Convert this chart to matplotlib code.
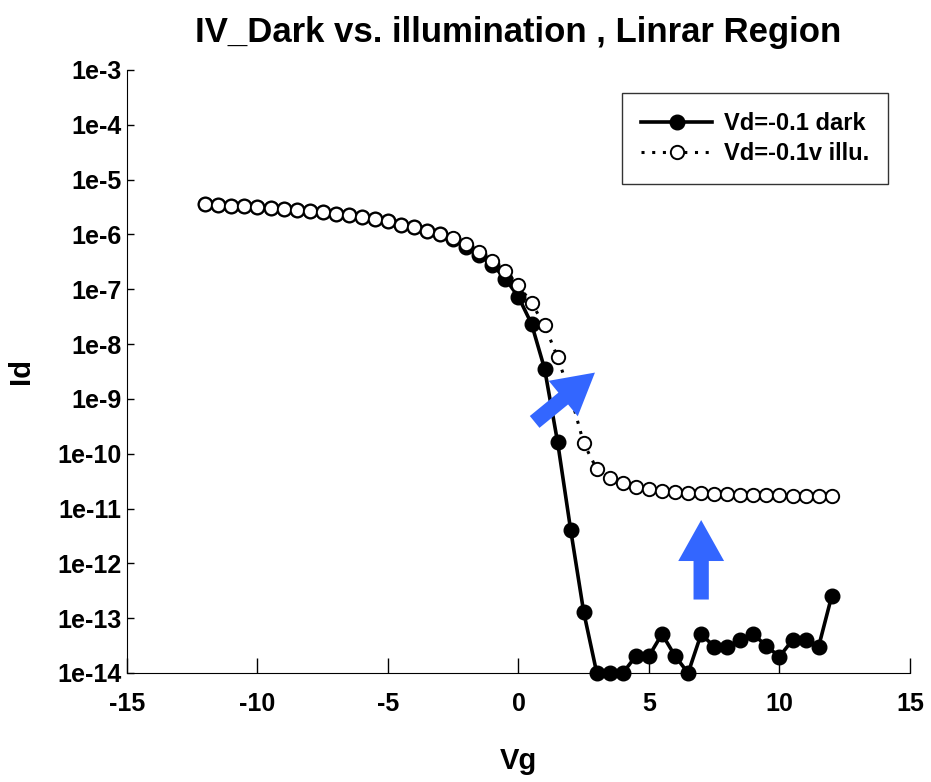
import numpy as np
import matplotlib
matplotlib.use("Agg")
from matplotlib import pyplot as plt

plt.rcParams['font.family'] = ['Liberation Sans', 'DejaVu Sans']
plt.rcParams['font.weight'] = 'bold'
plt.rcParams['axes.unicode_minus'] = False

# gate voltage sweep
vg = [-12, -11.5, -11, -10.5, -10, -9.5, -9, -8.5, -8, -7.5, -7, -6.5, -6, -5.5, -5,
      -4.5, -4, -3.5, -3, -2.5, -2, -1.5, -1, -0.5, 0, 0.5, 1, 1.5, 2, 2.5, 3, 3.5,
      4, 4.5, 5, 5.5, 6, 6.5, 7, 7.5, 8, 8.5, 9, 9.5, 10, 10.5, 11, 11.5, 12]

# log10(Id)
log_illu = [-5.45, -5.47, -5.48, -5.49, -5.50, -5.51, -5.53, -5.55, -5.57, -5.59,
            -5.62, -5.65, -5.68, -5.72, -5.76, -5.82, -5.86, -5.93, -5.99, -6.07,
            -6.18, -6.32, -6.49, -6.67, -6.93, -7.25, -7.66, -8.24, -8.95, -9.81,
            -10.28, -10.45, -10.54, -10.60, -10.65, -10.68, -10.70, -10.71, -10.72,
            -10.73, -10.74, -10.75, -10.75, -10.76, -10.76, -10.77, -10.77, -10.78,
            -10.78]
log_dark = [-5.45, -5.47, -5.48, -5.49, -5.50, -5.51, -5.53, -5.55, -5.57, -5.59,
            -5.62, -5.65, -5.68, -5.72, -5.76, -5.82, -5.86, -5.93, -5.99, -6.08,
            -6.23, -6.38, -6.55, -6.81, -7.14, -7.63, -8.45, -9.79, -11.39, -12.89,
            -14.0, -14.0, -14.0, -13.69, -13.69, -13.29, -13.69, -14.0, -13.29,
            -13.52, -13.52, -13.40, -13.29, -13.51, -13.70, -13.40, -13.40, -13.52,
            -12.60]

id_dark = 10 ** np.array(log_dark)
id_illu = 10 ** np.array(log_illu)

fig = plt.figure(figsize=(9.31, 7.82), dpi=100)
ax = fig.add_axes([0.1364, 0.1394, 0.8410, 0.7711])

ax.plot(vg, id_dark, '-o', color='black', lw=2.6, ms=10.5,
        label='Vd=-0.1 dark', clip_on=False, zorder=3)
ax.plot(vg, id_illu, linestyle=(0, (1, 2.5)), lw=2.2, color='black', marker='o',
        ms=9.6, mfc='white', mec='black', mew=1.4,
        label='Vd=-0.1v illu.', clip_on=False, zorder=4)

# blue arrows
arrow_style = 'simple,head_length=2.95,head_width=3.3,tail_width=1.1'
ax.annotate('', xy=(2.93, 10 ** -8.52), xytext=(0.62, 10 ** -9.42),
            arrowprops=dict(arrowstyle=arrow_style, color='#3366FF', lw=0,
                            shrinkA=0, shrinkB=0, mutation_scale=10), zorder=5)
ax.annotate('', xy=(7, 10 ** -11.21), xytext=(7, 10 ** -12.66),
            arrowprops=dict(arrowstyle=arrow_style, color='#3366FF', lw=0,
                            shrinkA=0, shrinkB=0, mutation_scale=10), zorder=5)

ax.set_yscale('log')
ax.set_xlim(-15, 15)
ax.set_ylim(1e-14, 1e-3)
ax.set_xticks([-15, -10, -5, 0, 5, 10, 15])
yt = [10.0 ** (-k) for k in range(3, 15)]
ax.set_yticks(yt)
ax.set_yticklabels(['1e-%d' % k for k in range(3, 15)])
ax.yaxis.set_minor_locator(matplotlib.ticker.NullLocator())
ax.tick_params(axis='both', direction='in', labelsize=18, width=1)
ax.tick_params(axis='x', length=11, pad=14)
ax.tick_params(axis='y', length=5, pad=4)
ax.spines['top'].set_visible(False)
ax.spines['right'].set_visible(False)

ax.set_title('IV_Dark vs. illumination , Linrar Region', fontsize=25,
             fontweight='bold', pad=20)
ax.set_xlabel('Vg', fontsize=21, fontweight='bold', labelpad=22)
ax.set_ylabel('Id', fontsize=21, fontweight='bold', labelpad=16)

leg = ax.legend(loc='upper right', bbox_to_anchor=(0.972, 0.962), fontsize=17,
                frameon=True, fancybox=False, edgecolor='black',
                borderaxespad=0, handlelength=3.0, handletextpad=0.5,
                borderpad=0.8, labelspacing=0.3)
leg.get_frame().set_linewidth(1)
for t in leg.get_texts():
    t.set_fontweight('bold')

plt.savefig("out.png", dpi=100)
